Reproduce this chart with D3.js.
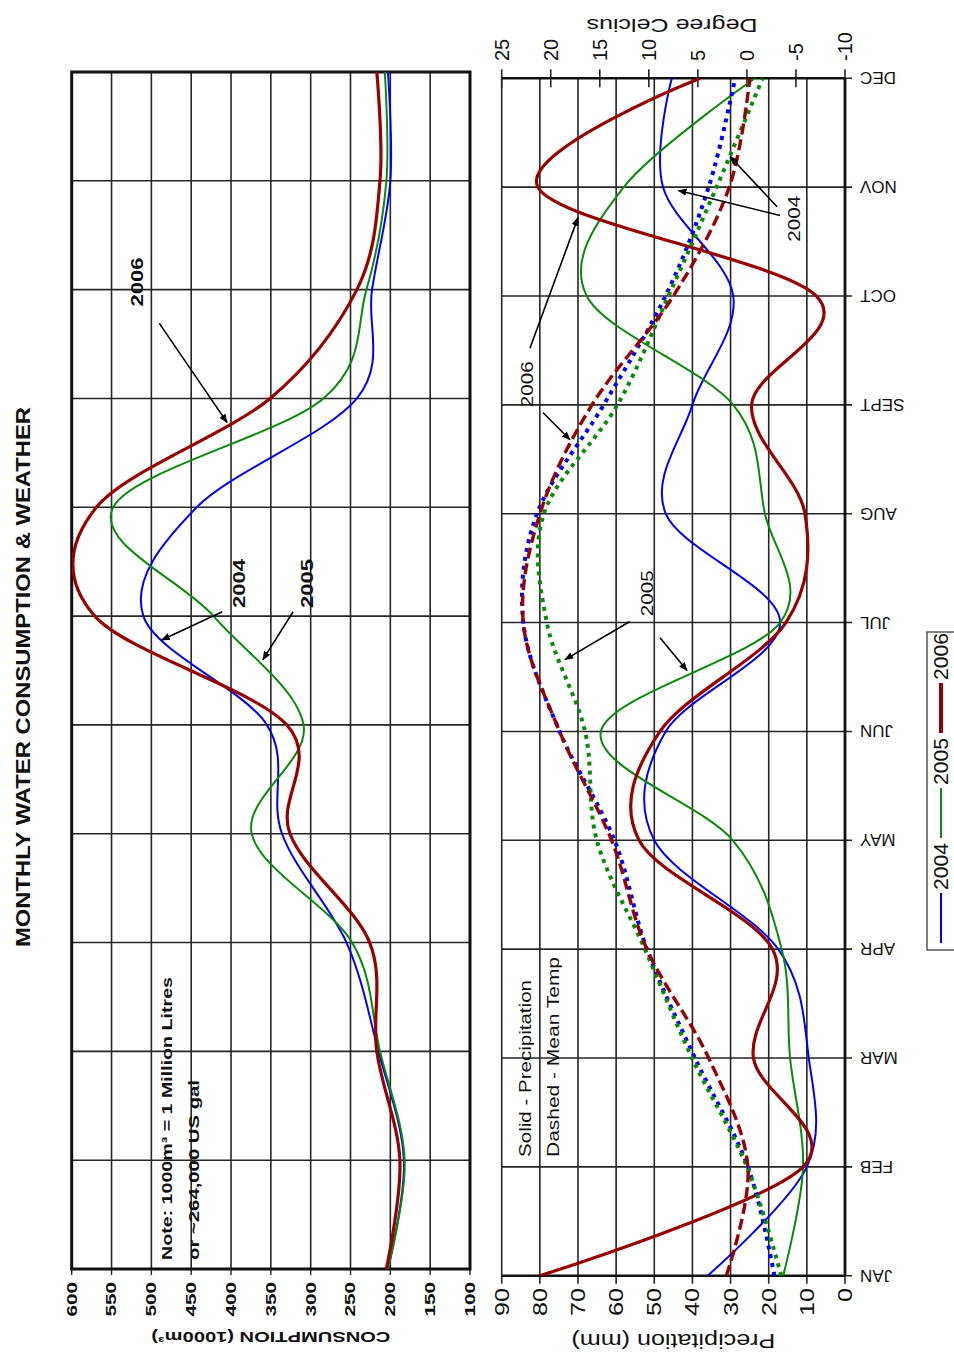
<!DOCTYPE html>
<html><head><meta charset="utf-8">
<script src="https://cdn.jsdelivr.net/npm/d3@7"></script>
<style>
body{margin:0;background:#fff}
svg{display:block}
text{font-family:"Liberation Sans",Arial,Helvetica,sans-serif;fill:#111}
</style>
</head><body>
<svg id="c" width="954" height="1358"></svg>
<script>
// ---------------- DATA ----------------
const months = ["JAN","FEB","MAR","APR","MAY","JUN","JUL","AUG","SEPT","OCT","NOV","DEC"];
const years = ["2004","2005","2006"];
const consumptionTicks = [600,550,500,450,400,350,300,250,200,150,100];
const precipTicks = [90,80,70,60,50,40,30,20,10,0];
const tempTicks = [25,20,15,10,5,0,-5,-10];

// Monthly water consumption (1000 m3)
const cons2004 = [203,183,215,255,336,355,510,443,242,223,200,203];
const cons2005 = [203,182,213,248,374,309,422,548,284,230,205,207];
const cons2006 = [205,188,217,226,326,330,571,569,351,242,213,217];

// Precipitation (mm)
const prec2004 = [36,10,9.5,17.5,50,47,17,47,40,29.3,47.7,45.4];
const prec2005 = [16.2,11,14.4,16.6,29.4,64,17,21,29.3,67.7,58,23.6];
const prec2006 = [80,11,24,19,54,48.5,15.5,10.5,24.5,7.5,80.5,38];

// Mean temperature (deg C)
const temp2004 = [-2.8,-0.1,5.3,10.2,13.5,19.1,22.8,21.4,14.6,8.3,3.9,1.2];
const temp2005 = [-3.5,0,5.6,10.4,15.3,16.5,20.4,20.7,13.2,8.0,3.1,-1.6];
const temp2006 = [2.1,-0.1,3.9,10.2,13.8,19.1,22.8,21.1,15.8,7.5,1.8,-0.3];

// ---------------- SETUP (chart drawn in landscape, then rotated) ----------------
const W = 1358;
const svg = d3.select("#c");
const g = svg.append("g").attr("transform", `translate(0,${W}) rotate(-90)`);

const colors = {"2004":"#0000ff","2005":"#0a8a0a","2006":"#990000"};
const gridCol = "#262626";

const xU = d3.scalePoint().domain(months).range([89,1286]);
const xUi = d3.scaleLinear().domain([0,11]).range([89,1286]);
const yC = d3.scaleLinear().domain([100,600]).range([470,71.7]);

const xL = d3.scalePoint().domain(months).range([82.3,1279.7]);
const xLi = d3.scaleLinear().domain([0,11]).range([82.3,1279.7]);
const yP = d3.scaleLinear().domain([0,90]).range([845,501.7]);
const yT = d3.scaleLinear().domain([-10,25]).range([845,501.7]);

function txt(parent, x, y, str, o) {
  const t = parent.append("text")
    .attr("transform", `translate(${x},${y}) rotate(${o.rot||0})`)
    .attr("text-anchor", o.anchor || "start")
    .attr("dy", o.dy == null ? "0.35em" : o.dy)
    .style("font-size", o.size + "px")
    .style("font-weight", o.bold ? "bold" : "normal")
    .text(str);
  if (o.len) t.attr("textLength", o.len).attr("lengthAdjust", "spacingAndGlyphs");
  return t;
}

// arrow marker
svg.append("defs").append("marker")
  .attr("id","arr").attr("viewBox","0 0 10 10").attr("refX",9).attr("refY",5)
  .attr("markerWidth",9).attr("markerHeight",9).attr("markerUnits","userSpaceOnUse")
  .attr("orient","auto")
  .append("path").attr("d","M0,1 L10,5 L0,9 Z").attr("fill","#000");

const defs = svg.select("defs");
defs.append("clipPath").attr("id","clipU").append("rect")
  .attr("x", xU("JAN")).attr("y", yC(600)).attr("width", xU("DEC")-xU("JAN")).attr("height", yC(100)-yC(600));
defs.append("clipPath").attr("id","clipL").append("rect")
  .attr("x", xL("JAN")).attr("y", yP(90)).attr("width", xL("DEC")-xL("JAN")).attr("height", yP(0)-yP(90));

// ---------------- TITLE ----------------
txt(g, 681, 23, "MONTHLY WATER CONSUMPTION & WEATHER", {anchor:"middle", size:20, bold:true, len:540});

// ---------------- UPPER PANEL ----------------
const up = g.append("g");
up.selectAll("line.mv").data(months).join("line").attr("class","mv")
  .attr("x1", d=>xU(d)).attr("x2", d=>xU(d)).attr("y1", yC(600)).attr("y2", yC(100))
  .attr("stroke", gridCol).attr("stroke-width", 1.6);
up.selectAll("line.ch").data(consumptionTicks).join("line").attr("class","ch")
  .attr("x1", xU("JAN")).attr("x2", xU("DEC")).attr("y1", d=>yC(d)).attr("y2", d=>yC(d))
  .attr("stroke", gridCol).attr("stroke-width", 1.6);
// ticks
up.selectAll("line.ct").data(consumptionTicks).join("line").attr("class","ct")
  .attr("x1", xU("JAN")-6).attr("x2", xU("JAN")).attr("y1", d=>yC(d)).attr("y2", d=>yC(d))
  .attr("stroke", gridCol).attr("stroke-width", 1.4);
up.append("rect").attr("x", xU("JAN")).attr("y", yC(600))
  .attr("width", xU("DEC")-xU("JAN")).attr("height", yC(100)-yC(600))
  .attr("fill","none").attr("stroke","#111").attr("stroke-width",3);

consumptionTicks.forEach(v => {
  txt(up, 76, yC(v), String(v), {anchor:"end", size:14, bold:true, len:11.5*String(v).length});
});
txt(up, 21, (yC(600)+yC(100))/2, "CONSUMPTION (1000m\u00B3)", {rot:-90, anchor:"middle", size:15, bold:true, len:239});

const lineU = d3.line().x((d,i)=>xU(months[i])).y(d=>yC(d)).curve(d3.curveCardinal.tension(0));
const upLines = up.append("g").attr("clip-path","url(#clipU)");
[["2004",cons2004,2],["2005",cons2005,2],["2006",cons2006,3.2]].forEach(([y,arr,w]) => {
  upLines.append("path").datum(arr).attr("d", lineU)
    .attr("fill","none").attr("stroke", colors[y]).attr("stroke-width", w);
});

// note
txt(up, 98, 172, "Note: 1000m\u00B3 = 1 Million Litres", {size:15, bold:true, dy:"0", len:283});
txt(up, 98, 199, "or ~264,000 US gal", {size:15, bold:true, dy:"0", len:180});

// annotations upper
const annU = [
  {label:"2006", at:[9.07,510.5], arrows:[[[8.69,490],[7.78,405]]]},
  {label:"2004", at:[6.30,382.5], arrows:[[[6.04,411],[5.78,487]]]},
  {label:"2005", at:[6.30,297], arrows:[[[6.04,322],[5.60,360]]]}
];
annU.forEach(a => {
  txt(up, xUi(a.at[0]), yC(a.at[1]), a.label, {anchor:"middle", size:16, bold:true, dy:"0", len:49});
  a.arrows.forEach(([s,e]) => {
    up.append("line").attr("x1", xUi(s[0])).attr("y1", yC(s[1])).attr("x2", xUi(e[0])).attr("y2", yC(e[1]))
      .attr("stroke","#000").attr("stroke-width",1.6).attr("marker-end","url(#arr)");
  });
});

// ---------------- LOWER PANEL ----------------
const lo = g.append("g");
lo.selectAll("line.mv").data(months).join("line").attr("class","mv")
  .attr("x1", d=>xL(d)).attr("x2", d=>xL(d)).attr("y1", yP(90)).attr("y2", yP(0)+7)
  .attr("stroke", gridCol).attr("stroke-width", 1.6);
lo.selectAll("line.ph").data(precipTicks).join("line").attr("class","ph")
  .attr("x1", xL("JAN")-8).attr("x2", xL("DEC")).attr("y1", d=>yP(d)).attr("y2", d=>yP(d))
  .attr("stroke", gridCol).attr("stroke-width", 1.6);
lo.selectAll("line.tt").data(tempTicks).join("line").attr("class","tt")
  .attr("x1", xL("DEC")-9).attr("x2", xL("DEC")+9).attr("y1", d=>yT(d)).attr("y2", d=>yT(d))
  .attr("stroke", gridCol).attr("stroke-width", 1.6);
// thick axes
lo.append("line").attr("x1", xL("JAN")).attr("x2", xL("JAN")).attr("y1", yP(90)).attr("y2", yP(0))
  .attr("stroke","#111").attr("stroke-width",2.6);
lo.append("line").attr("x1", xL("DEC")).attr("x2", xL("DEC")).attr("y1", yP(90)).attr("y2", yP(0))
  .attr("stroke","#111").attr("stroke-width",2.6);
lo.append("line").attr("x1", xL("JAN")).attr("x2", xL("DEC")).attr("y1", yP(0)).attr("y2", yP(0))
  .attr("stroke","#111").attr("stroke-width",2.8);

precipTicks.forEach(v => {
  txt(lo, 70, yP(v), String(v), {anchor:"end", size:20, len:14*String(v).length});
});
tempTicks.forEach(v => {
  txt(lo, 1297, yT(v), String(v), {anchor:"start", size:20});
});
months.forEach(m => {
  txt(lo, xL(m), 860, m, {rot:-90, anchor:"end", size:17});
});
txt(lo, 17, (yP(90)+yP(0))/2, "Precipitation (mm)", {rot:-90, anchor:"middle", size:20, len:204});
txt(lo, 1333, 672, "Degree Celcius", {rot:-90, anchor:"middle", size:18, len:171});

const lineP = d3.line().x((d,i)=>xL(months[i])).y(d=>yP(d)).curve(d3.curveCardinal.tension(0));
const lineT = d3.line().x((d,i)=>xL(months[i])).y(d=>yT(d)).curve(d3.curveCardinal.tension(0));
const loLines = lo.append("g").attr("clip-path","url(#clipL)");
[["2004",prec2004,2],["2005",prec2005,2],["2006",prec2006,3.2]].forEach(([y,arr,w]) => {
  loLines.append("path").datum(arr).attr("d", lineP)
    .attr("fill","none").attr("stroke", colors[y]).attr("stroke-width", w);
});
[["2004",temp2004,4,"4 5"],["2005",temp2005,4,"4 5"],["2006",temp2006,3.4,"11 5"]].forEach(([y,arr,w,da]) => {
  loLines.append("path").datum(arr).attr("d", lineT)
    .attr("fill","none").attr("stroke", colors[y]).attr("stroke-width", w)
    .attr("stroke-dasharray", da);
});

txt(lo, 201, 531, "Solid - Precipitation", {size:17, dy:"0", len:177});
txt(lo, 201, 559, "Dashed - Mean Temp", {size:17, dy:"0", len:200});

const annL = [
  {label:"2006", at:[8.19,81.8], arrows:[[[8.52,82.6],[9.72,70]],[[7.93,79.2],[7.68,72.1]]]},
  {label:"2005", at:[6.27,50.3], arrows:[[[6.01,56.4],[5.66,73.4]],[[5.86,48.5],[5.56,41.4]]]},
  {label:"2004", at:[9.71,11.8], arrows:[[[9.74,17],[9.97,43.7]],[[9.82,17.8],[10.28,30.1]]]}
];
annL.forEach(a => {
  txt(lo, xLi(a.at[0]), yP(a.at[1]), a.label, {anchor:"middle", size:17, dy:"0", len:46});
  a.arrows.forEach(([s,e]) => {
    lo.append("line").attr("x1", xLi(s[0])).attr("y1", yP(s[1])).attr("x2", xLi(e[0])).attr("y2", yP(e[1]))
      .attr("stroke","#000").attr("stroke-width",1.6).attr("marker-end","url(#arr)");
  });
});

// ---------------- LEGEND ----------------
const lg = g.append("g");
lg.append("rect").attr("x",408).attr("y",927).attr("width",318).attr("height",40)
  .attr("fill","#fff").attr("stroke","#555").attr("stroke-width",1.5);
const legendX = d3.scalePoint().domain(years).range([415,625]);
years.forEach(y => {
  const x0 = legendX(y);
  lg.append("line").attr("x1", x0).attr("x2", x0+50).attr("y1", 941).attr("y2", 941)
    .attr("stroke", colors[y]).attr("stroke-width", y==="2006"?4:2);
  txt(lg, x0+53, 948, y, {size:20, dy:"0", len:47});
});
</script>
</body></html>
